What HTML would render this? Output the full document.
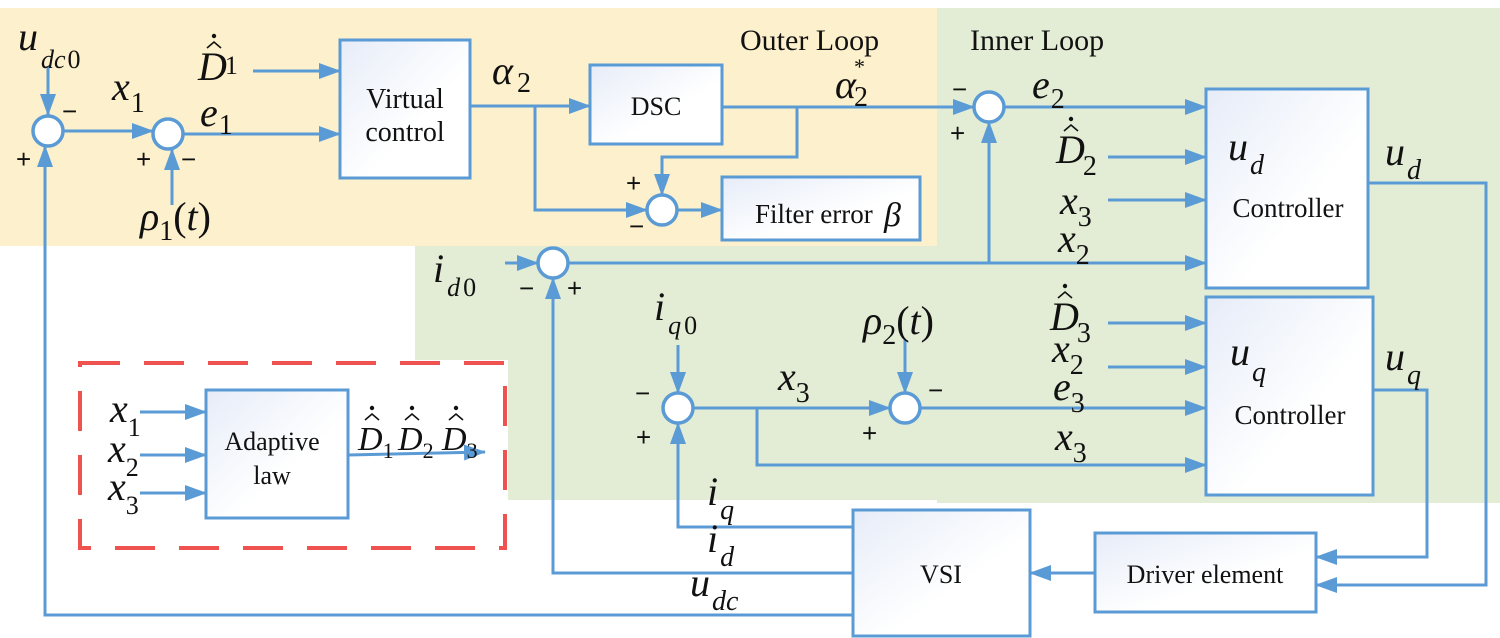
<!DOCTYPE html>
<html><head><meta charset="utf-8"><style>
html,body{margin:0;padding:0;background:#fff}
svg{display:block}
svg text{font-family:"Liberation Serif","DejaVu Serif",serif;fill:#111}
svg text.s{font-family:"Liberation Sans","DejaVu Sans",sans-serif}
.i{font-style:italic}
.n{font-style:normal}
</style></head><body>
<svg width="1500" height="638" viewBox="0 0 1500 638" xmlns="http://www.w3.org/2000/svg" font-family="Liberation Serif, DejaVu Serif, serif">
<defs>
<marker id="a" viewBox="0 0 22 16" refX="21" refY="8" markerWidth="22" markerHeight="16" markerUnits="userSpaceOnUse" orient="auto"><path d="M0,0 L22,8 L0,16 z" fill="#5b9bd5"/></marker>
<linearGradient id="g" x1="0" y1="0" x2="1" y2="1"><stop offset="0" stop-color="#e6ecf8"/><stop offset="0.6" stop-color="#ffffff"/></linearGradient>
</defs>
<rect x="0" y="8" width="937" height="238" fill="#fdf0cc"/>
<rect x="937" y="8" width="563" height="495" fill="#e3edd5"/>
<rect x="415" y="246" width="522" height="254" fill="#e3edd5"/>
<rect x="78" y="360" width="430" height="190" fill="#fff"/>
<rect x="80" y="363" width="425" height="185" fill="none" stroke="#ef5350" stroke-width="4" stroke-dasharray="40,24"/>

<g stroke="#5b9bd5" stroke-width="3" fill="none">
<rect x="340" y="40" width="130" height="138" fill="url(#g)"/>
<rect x="590" y="65" width="132" height="79" fill="url(#g)"/>
<rect x="722" y="177" width="198" height="63" fill="url(#g)"/>
<rect x="1206" y="89" width="162" height="199" fill="url(#g)"/>
<rect x="1206" y="297" width="167" height="198" fill="url(#g)"/>
<rect x="853" y="510" width="177" height="126" fill="url(#g)"/>
<rect x="1095" y="533" width="221" height="79" fill="url(#g)"/>
<rect x="206" y="390" width="142" height="128" fill="url(#g)"/>
<path d="M48,66 V115" marker-end="url(#a)"/>
<path d="M63,131 H153" marker-end="url(#a)"/>
<path d="M172,205 V149" marker-end="url(#a)"/>
<path d="M183,134 H340" marker-end="url(#a)"/>
<path d="M253,71 H340" marker-end="url(#a)"/>
<path d="M470,106 H590" marker-end="url(#a)"/>
<path d="M535,106 V210 H647" marker-end="url(#a)"/>
<path d="M722,107 H974" marker-end="url(#a)"/>
<path d="M797,107 V157 H662 V195" marker-end="url(#a)"/>
<path d="M677,210 H722" marker-end="url(#a)"/>
<path d="M1004,107 H1206" marker-end="url(#a)"/>
<path d="M989,263 V122" marker-end="url(#a)"/>
<path d="M1108,157 H1206" marker-end="url(#a)"/>
<path d="M1108,200 H1206" marker-end="url(#a)"/>
<path d="M568,263 H1206" marker-end="url(#a)"/>
<path d="M505,263 H538" marker-end="url(#a)"/>
<path d="M853,573 H553 V278" marker-end="url(#a)"/>
<path d="M678,345 V393" marker-end="url(#a)"/>
<path d="M853,527 H678 V423" marker-end="url(#a)"/>
<path d="M693,408 H890" marker-end="url(#a)"/>
<path d="M757,408 V465 H1206" marker-end="url(#a)"/>
<path d="M905,340 V393" marker-end="url(#a)"/>
<path d="M920,408 H1206" marker-end="url(#a)"/>
<path d="M1108,323 H1206" marker-end="url(#a)"/>
<path d="M1108,367 H1206" marker-end="url(#a)"/>
<path d="M1368,183 H1486 V585 H1316" marker-end="url(#a)"/>
<path d="M1373,390 H1427 V557 H1316" marker-end="url(#a)"/>
<path d="M1095,573 H1030" marker-end="url(#a)"/>
<path d="M853,615 H45 V146" marker-end="url(#a)"/>
<path d="M140,412 H206" marker-end="url(#a)"/>
<path d="M140,455 H206" marker-end="url(#a)"/>
<path d="M140,493 H206" marker-end="url(#a)"/>
<path d="M348,455 L485,452" marker-end="url(#a)"/>
<circle cx="48" cy="131" r="15" fill="#fff" stroke-width="3.5"/>
<circle cx="168" cy="134" r="15" fill="#fff" stroke-width="3.5"/>
<circle cx="662" cy="210" r="15" fill="#fff" stroke-width="3.5"/>
<circle cx="989" cy="107" r="15" fill="#fff" stroke-width="3.5"/>
<circle cx="553" cy="263" r="15" fill="#fff" stroke-width="3.5"/>
<circle cx="678" cy="408" r="15" fill="#fff" stroke-width="3.5"/>
<circle cx="905" cy="408" r="15" fill="#fff" stroke-width="3.5"/>
</g>

<text x="405" y="108" font-size="28" text-anchor="middle">Virtual</text>
<text x="405" y="141" font-size="28" text-anchor="middle">control</text>
<text x="656" y="115" font-size="26" text-anchor="middle">DSC</text>
<text x="755" y="223" font-size="27">Filter error</text><text x="884" y="226" font-size="34" class="i">β</text>
<text x="1288" y="217" font-size="27" text-anchor="middle">Controller</text>
<text x="1290" y="424" font-size="27" text-anchor="middle">Controller</text>
<text x="941" y="583" font-size="26" text-anchor="middle">VSI</text>
<text x="1205" y="583" font-size="26" text-anchor="middle">Driver element</text>
<text x="272" y="450" font-size="26" text-anchor="middle">Adaptive</text>
<text x="272" y="484" font-size="26" text-anchor="middle">law</text>
<text x="740" y="50" font-size="30">Outer Loop</text>
<text x="970" y="50" font-size="30">Inner Loop</text>

<g font-size="26">
<text class="s" x="62" y="120">−</text><text class="s" x="16" y="168">+</text>
<text class="s" x="136" y="168">+</text><text class="s" x="181" y="168">−</text>
<text class="s" x="626" y="192">+</text><text class="s" x="629" y="235">−</text>
<text class="s" x="952" y="98">−</text><text class="s" x="950" y="142">+</text>
<text class="s" x="519" y="297">−</text><text class="s" x="567" y="297">+</text>
<text class="s" x="635" y="402">−</text><text class="s" x="636" y="446">+</text>
<text class="s" x="928" y="399">−</text><text class="s" x="862" y="442">+</text>
</g>

<g font-size="40">
<text class="i" x="18" y="50">u<tspan font-size="26" dx="3" dy="18">dc</tspan><tspan class="n" font-size="26" dx="2">0</tspan></text>
<text class="i" x="112" y="100">x<tspan class="n" font-size="28" dx="1" dy="12">1</tspan></text>
<text class="i" x="198" y="80">D<tspan class="n" font-size="26" dx="-2" dy="-6">1</tspan></text>
<text class="i" x="200" y="126">e<tspan class="n" font-size="28" dx="1" dy="8">1</tspan></text>
<text class="i" x="140" y="230">ρ<tspan class="n" font-size="28" dy="10">1</tspan><tspan class="n" dy="-10">(</tspan>t<tspan class="n">)</tspan></text>
<text class="i" x="492" y="84">α<tspan class="n" font-size="28" dx="4" dy="8">2</tspan></text>
<text class="i" x="835" y="98">α<tspan class="n" font-size="28" dx="-2" dy="8">2</tspan><tspan class="n" font-size="22" dx="-14" dy="-32">*</tspan></text>
<text class="i" x="1032" y="98">e<tspan class="n" font-size="28" dx="1" dy="10">2</tspan></text>
<text class="i" x="1056" y="163">D<tspan class="n" font-size="28" dx="-2" dy="12">2</tspan></text>
<text class="i" x="1060" y="214">x<tspan class="n" font-size="28" dy="12">3</tspan></text>
<text class="i" x="1058" y="252">x<tspan class="n" font-size="28" dy="12">2</tspan></text>
<text class="i" x="1228" y="160">u<tspan font-size="28" dx="2" dy="14">d</tspan></text>
<text class="i" x="1385" y="165">u<tspan font-size="28" dx="2" dy="14">d</tspan></text>
<text class="i" x="433" y="282">i<tspan font-size="26" dx="3" dy="14">d</tspan><tspan class="n" font-size="26" dx="3">0</tspan></text>
<text class="i" x="654" y="320">i<tspan font-size="26" dx="3" dy="14">q</tspan><tspan class="n" font-size="26" dx="3">0</tspan></text>
<text class="i" x="863" y="334">ρ<tspan class="n" font-size="28" dy="10">2</tspan><tspan class="n" dy="-10">(</tspan>t<tspan class="n">)</tspan></text>
<text class="i" x="778" y="390">x<tspan class="n" font-size="28" dy="12">3</tspan></text>
<text class="i" x="1050" y="330">D<tspan class="n" font-size="28" dx="-2" dy="12">3</tspan></text>
<text class="i" x="1052" y="362">x<tspan class="n" font-size="28" dy="12">2</tspan></text>
<text class="i" x="1053" y="400">e<tspan class="n" font-size="28" dy="12">3</tspan></text>
<text class="i" x="1055" y="450">x<tspan class="n" font-size="28" dy="12">3</tspan></text>
<text class="i" x="1230" y="365">u<tspan font-size="28" dx="2" dy="16">q</tspan></text>
<text class="i" x="1385" y="370">u<tspan font-size="28" dx="2" dy="14">q</tspan></text>
<text class="i" x="707" y="505">i<tspan font-size="28" dx="2" dy="14">q</tspan></text>
<text class="i" x="707" y="552">i<tspan font-size="28" dx="2" dy="14">d</tspan></text>
<text class="i" x="690" y="596">u<tspan font-size="28" dx="2" dy="14">dc</tspan></text>
<text class="i" x="110" y="422">x<tspan class="n" font-size="26" dy="14">1</tspan></text>
<text class="i" x="108" y="462">x<tspan class="n" font-size="26" dy="14">2</tspan></text>
<text class="i" x="108" y="500">x<tspan class="n" font-size="26" dy="14">3</tspan></text>
<text class="i" x="358" y="450" font-size="34">D<tspan class="n" font-size="22" dy="8">1</tspan></text>
<text class="i" x="398" y="450" font-size="34">D<tspan class="n" font-size="22" dy="8">2</tspan></text>
<text class="i" x="442" y="450" font-size="34">D<tspan class="n" font-size="22" dy="8">3</tspan></text>
</g>
<g fill="none" stroke="#111" stroke-width="1.6">
<path d="M207,48 L214,42 L221,48"/><path d="M1064,131 L1071,125 L1078,131"/><path d="M1058,298 L1065,292 L1072,298"/>
<path d="M365,420 L372,414 L379,420"/><path d="M405,420 L412,414 L419,420"/><path d="M449,420 L456,414 L463,420"/>
</g>
<g fill="#111">
<circle cx="214" cy="36" r="2.2"/><circle cx="1071" cy="119" r="2.2"/><circle cx="1065" cy="286" r="2.2"/>
<circle cx="372" cy="408" r="2.2"/><circle cx="412" cy="408" r="2.2"/><circle cx="456" cy="408" r="2.2"/>
</g>
</svg>
</body></html>
